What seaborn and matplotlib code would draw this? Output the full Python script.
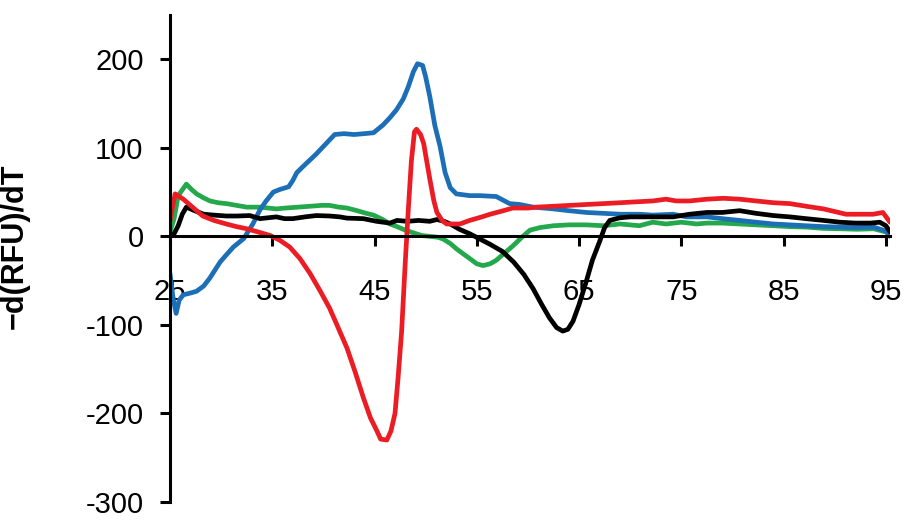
import numpy as np
import pandas as pd
import matplotlib
matplotlib.use("Agg")
import matplotlib.pyplot as plt
import seaborn as sns

# Melt-curve derivative traces: temperature (°C) and -d(RFU)/dT for four wells
green_t = [25.0, 25.4, 25.8, 26.6, 27.1, 27.6, 28.2, 28.9, 29.7, 30.5, 31.5, 32.5, 33.8, 34.6,
           35.4, 36.3, 37.5, 38.7, 39.8, 40.6, 41.5, 42.3, 43.3, 44.2, 44.9, 45.8, 46.5, 47.2,
           48.0, 48.8, 49.6, 50.4, 51.2, 51.7, 52.4, 53.0, 53.7, 54.3, 55.0, 55.6, 56.3, 56.9,
           57.6, 58.2, 58.6, 59.4, 60.2, 61.2, 62.5, 64.0, 65.7, 67.4, 69.0, 70.9, 72.2, 73.5,
           75.0, 76.5, 77.5, 79.0, 80.7, 82.3, 84.0, 85.6, 87.2, 88.9, 90.5, 92.2, 93.8, 95.0, 95.4]
green_v = [5, 20, 46, 59, 53, 48, 44, 40, 38, 37, 35, 33, 33, 32,
           31, 32, 33, 34, 35, 35, 33, 32, 29, 26, 24, 19, 14, 11,
           7, 4, 1, 0, -1, -3, -8, -14, -20, -25, -31, -33, -31, -27,
           -20, -14, -10, -1, 7, 10, 12, 13, 13, 12, 14, 12, 16, 14,
           16, 14, 15, 15, 14, 13, 12, 11, 10.5, 9, 8.6, 8, 8.6, 5, 2]

blue_t = [25.0, 25.3, 25.6, 25.9, 26.3, 27.0, 27.6, 28.3, 28.9, 29.4, 29.9, 30.5, 31.2, 32.2,
          33.1, 33.8, 34.4, 35.1, 35.75, 36.6, 37.0, 37.4, 38.2, 39.3, 40.2, 41.1, 42.0, 43.0,
          44.0, 44.9, 45.85, 46.5, 47.15, 47.8, 48.3, 48.8, 49.2, 49.7, 50.0, 50.4, 50.9, 51.4,
          51.9, 52.4, 53.0, 54.3, 55.3, 56.9, 58.2, 59.2, 60.5, 62.5, 64.0, 65.7, 67.4, 69.0,
          70.9, 72.2, 74.2, 75.5, 77.5, 79.0, 80.7, 82.3, 84.0, 85.6, 87.2, 88.9, 90.5, 92.0,
          93.8, 95.0, 95.4]
blue_v = [-42, -70, -87, -72, -66, -64, -62, -56, -47, -38, -29, -21, -12, -2.6,
          14, 30, 40, 50, 53, 56, 63, 72, 81, 93, 104, 115, 116, 115,
          116, 117, 126, 134, 143, 155, 169, 186, 195, 193, 180, 158, 125, 102,
          72, 55, 48, 46, 46, 45, 37, 36, 33, 31, 29, 27, 26, 25,
          25, 24, 25, 22, 22, 20, 18, 16, 14, 13, 12, 11, 10.5, 10,
          10.5, 6, 0]

black_t = [25.0, 25.4, 25.8, 26.2, 26.6, 27.4, 28.3, 29.3, 30.5, 31.6, 32.8, 33.8, 34.6, 35.4,
           36.2, 37.0, 38.2, 39.3, 40.6, 41.6, 42.3, 43.9, 45.2, 46.5, 47.2, 48.2, 49.3, 50.4,
           51.1, 51.8, 52.4, 53.3, 54.3, 55.3, 56.3, 57.5, 58.6, 59.6, 60.5, 61.3, 62.1, 62.8,
           63.4, 63.9, 64.4, 65.0, 65.7, 66.3, 67.0, 67.5, 68.0, 69.0, 70.0, 71.0, 72.5, 74.2,
           75.8, 77.5, 79.0, 80.7, 82.3, 84.0, 85.6, 87.2, 88.9, 90.5, 92.0, 93.5, 94.4, 95.0, 95.4]
black_v = [0, 3, 12, 25, 33, 29, 25, 24, 23, 23, 23.5, 20, 21, 22,
           20, 20, 22, 23.5, 23, 22, 20.6, 20, 17, 15, 18, 17, 18, 17,
           19, 17, 14, 8, 3, -3, -9, -17, -29, -43, -59, -76, -92, -103,
           -107, -105, -96, -77, -51, -27, -6, 10, 18, 21, 22, 22, 22, 22,
           25, 27, 27, 29, 26, 23.5, 22, 20, 18, 16, 15, 15, 16, 12, 5]

red_t = [25.0, 25.5, 26.3, 27.2, 28.2, 29.3, 30.5, 31.5, 32.5, 33.6, 34.8, 35.75, 36.7, 37.7,
         38.7, 39.7, 40.6, 41.4, 42.3, 43.1, 43.9, 44.6, 45.2, 45.6, 46.2, 46.6, 47.0, 47.3,
         47.65, 48.0, 48.3, 48.6, 48.9, 49.1, 49.5, 49.8, 50.1, 50.4, 50.8, 51.1, 51.6, 52.05,
         53.35, 54.3, 55.5, 56.3, 57.6, 58.5, 60.0, 60.8, 62.5, 64.1, 65.7, 67.4, 69.0, 70.6,
         72.2, 73.5, 74.5, 75.8, 77.5, 79.1, 80.7, 82.3, 84.0, 85.6, 87.2, 88.9, 90.0, 91.1,
         92.5, 93.75, 94.7, 95.4]
red_v = [18, 48, 42, 33, 23, 18, 14, 11, 8.6, 5, 1, -4.5, -12, -25,
         -42, -62, -81, -102, -126, -153, -182, -205, -219, -229, -230, -220, -200, -160,
         -107, -30, 30, 85, 118, 121, 115, 105, 85, 65, 40, 27, 18, 14,
         14, 18, 22, 25, 29, 32, 32, 33, 34, 35, 36, 37, 38, 39,
         40, 42, 40, 40, 42, 43, 42, 40, 38, 37, 34, 31, 28, 25,
         25, 25, 27, 16]

series = {"green": (green_t, green_v), "blue": (blue_t, blue_v),
          "black": (black_t, black_v), "red": (red_t, red_v)}
df = pd.concat([pd.DataFrame({"T": t, "v": v, "well": name})
                for name, (t, v) in series.items()], ignore_index=True)

palette = {"green": "#23A84B", "blue": "#1C6FB6", "black": "#000000", "red": "#EC1C24"}

sns.set_theme(style="white")
plt.rcParams["font.family"] = ["Liberation Sans", "DejaVu Sans"]
plt.rcParams["axes.unicode_minus"] = False

fig = plt.figure(figsize=(9.09, 5.20), dpi=100)
ax = fig.add_axes([170 / 909, 18 / 520, 720 / 909, 487 / 520])

sns.lineplot(data=df, x="T", y="v", hue="well", hue_order=list(series.keys()),
             palette=palette, estimator=None, sort=False, linewidth=3.4,
             legend=False, ax=ax)

ax.set_xlim(25, 95.4)
ax.set_ylim(-300, 250)
ax.set_xticks(np.arange(25, 96, 10))
ax.set_yticks(np.arange(-300, 201, 100))

for side in ("top", "right"):
    ax.spines[side].set_visible(False)
ax.spines["bottom"].set_position(("data", 0))
for side in ("left", "bottom"):
    ax.spines[side].set_color("black")
    ax.spines[side].set_linewidth(2.2)

ax.tick_params(axis="x", direction="out", length=7, width=2.2, color="black",
               labelcolor="black", labelsize=21, pad=23, bottom=True)
ax.tick_params(axis="y", direction="out", length=7, width=2.2, color="black",
               labelcolor="black", labelsize=21, pad=12, left=True)

ax.set_xlabel("")
ax.set_ylabel("\u2212d(RFU)/dT", fontsize=22, fontweight="bold", color="black")
ax.yaxis.set_label_coords(-0.195, 0.525)

fig.savefig("out.png", dpi=100)
